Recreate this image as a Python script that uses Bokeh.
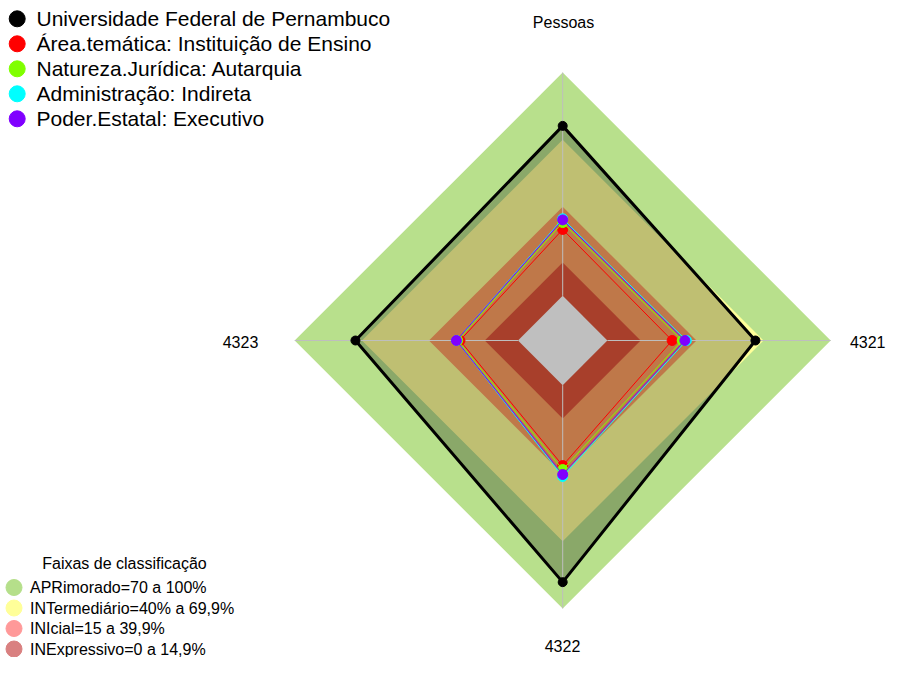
import numpy as np
from bokeh.plotting import figure
from bokeh.models import Range1d
from bokeh.core.properties import value
from bokeh.embed import file_html
from bokeh.resources import INLINE

# ---------------- data ----------------
categories = ["Pessoas", "4321", "4322", "4323"]
series_names = [
    "Universidade Federal de Pernambuco",
    "Área.temática: Instituição de Ensino",
    "Natureza.Jurídica: Autarquia",
    "Administração: Indireta",
    "Poder.Estatal: Executivo",
]
ufpe = [76.1, 66.3, 88.2, 72.8]
area_tematica = [29.7, 29.0, 36.0, 26.0]
natureza_juridica = [32.8, 33.5, 37.8, 27.0]
administracao = [34.5, 35.4, 40.9, 27.6]
poder_estatal = [34.0, 34.7, 40.0, 27.6]
series_values = [ufpe, area_tematica, natureza_juridica, administracao, poder_estatal]
series_colors = ["#000000", "#FF0000", "#80FF00", "#00FFFF", "#8000FF"]

band_title = "Faixas de classificação"
band_labels = ["APRimorado=70 a 100%", "INTermediário=40% a 69,9%",
               "INIcial=15 a 39,9%", "INExpressivo=0 a 14,9%"]
band_upper = [100, 69.9, 39.9, 14.9]
band_fill = ["#b8e08c", "#ffff99", "#ffa062", "#e0553a"]
band_legend = ["#b5df8a", "#ffff99", "#ff9999", "#d98080"]

vmin, vmax, seg = 0.0, 100.0, 5

# ---------------- geometry ----------------
CX, CY, R = 562.2, 340.0, 268.0   # pixel position of centre, radius


def sx(px):
    return (px - CX) / R


def sy(py):
    return (CY - py) / R


n = len(categories)
ang = np.pi / 2 - np.arange(n) * 2 * np.pi / n


def scale(v):
    v = np.asarray(v, dtype=float)
    return (1 + seg * (v - vmin) / (vmax - vmin)) / (seg + 1)


def poly(vals):
    r = scale(vals)
    return list(r * np.cos(ang)), list(r * np.sin(ang))


W, H = 888, 657
p = figure(width=W, height=H, output_backend="svg", toolbar_location=None,
           x_range=Range1d(sx(0), sx(W)), y_range=Range1d(sy(H), sy(0)),
           min_border=0, background_fill_color="white", border_fill_color="white")
p.axis.visible = False
p.grid.visible = False
p.outline_line_color = None

FONT = value("Liberation Sans")

# bands
for up, col in zip(band_upper, band_fill):
    xs, ys = poly([up] * n)
    p.patch(xs, ys, fill_color=col, line_color=None)

# empty centre
xs, ys = poly([vmin] * n)
p.patch(xs, ys, fill_color="white", line_color=None)

# UFPE fill (dark translucent)
xs, ys = poly(ufpe)
p.patch(xs, ys, fill_color="black", fill_alpha=0.25, line_color=None)

# axis lines
r0 = scale(vmin)
p.segment(x0=list(r0 * np.cos(ang)), y0=list(r0 * np.sin(ang)),
          x1=list(np.cos(ang)), y1=list(np.sin(ang)),
          line_color="#bebebe", line_width=1)

# series
for k, (vals, col) in enumerate(zip(series_values, series_colors)):
    xs, ys = poly(vals)
    lw = 3 if k == 0 else 1
    p.line(xs + xs[:1], ys + ys[:1], line_color=col, line_width=lw)
    p.scatter(xs, ys, size=9 if k == 0 else 10, fill_color=col, line_color=col)

# axis labels
lx = [sx(563), sx(885), sx(562), sx(240)]
ly = [sy(22), sy(341), sy(645), sy(341)]
la = ["center", "right", "center", "center"]
p.text(x=lx, y=ly, text=categories, text_font=FONT, text_font_size="16px",
       text_align=la, text_baseline="middle", text_color="black")

# top legend
leg_y = [sy(18.3 + 25 * i) for i in range(len(series_names))]
p.scatter([sx(16.7)] * len(series_names), leg_y, size=16,
          fill_color=series_colors, line_color=series_colors)
p.text(x=[sx(36)] * len(series_names), y=leg_y, text=series_names,
       text_font=FONT, text_font_size="21px", text_baseline="middle",
       text_align="left", text_color="black")

# bottom legend
p.text(x=[sx(124)], y=[sy(563)], text=[band_title], text_font=FONT,
       text_font_size="16px", text_align="center", text_baseline="middle",
       text_color="black")
b_y = [sy(587 + 20.5 * i) for i in range(len(band_labels))]
p.scatter([sx(13.5)] * len(band_labels), b_y, size=16,
          fill_color=band_legend, line_color=band_legend)
p.text(x=[sx(29.5)] * len(band_labels), y=b_y, text=band_labels,
       text_font=FONT, text_font_size="16px", text_baseline="middle",
       text_align="left", text_color="black")

open("out.html", "w").write(file_html(p, INLINE))
